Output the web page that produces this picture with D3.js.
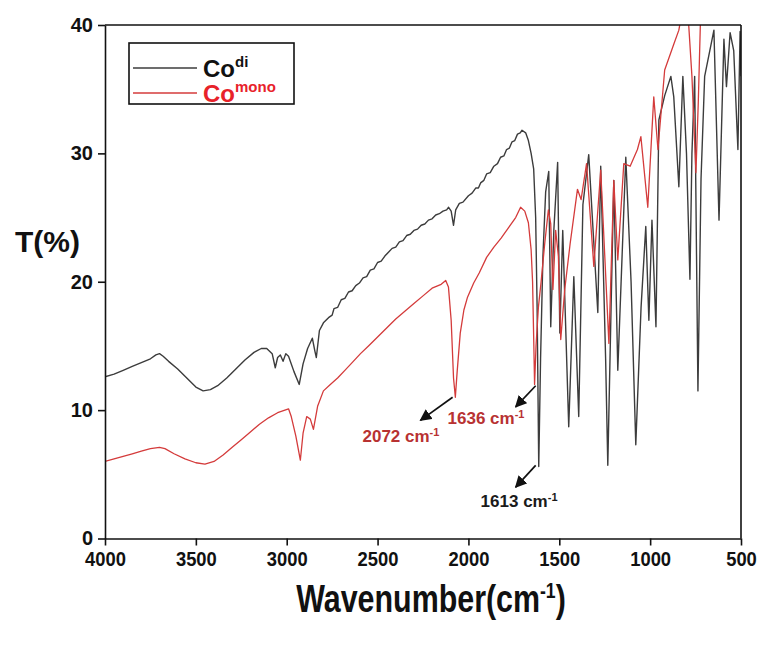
<!DOCTYPE html>
<html>
<head>
<meta charset="utf-8">
<script src="https://cdn.jsdelivr.net/npm/d3@7"></script>
<style>
  html, body { margin: 0; padding: 0; background: #fff; }
  svg { display: block; }
</style>
</head>
<body>
<svg id="chart" width="763" height="646"></svg>
<script>
// ---------------- DATA ----------------
const xTicks = [4000, 3500, 3000, 2500, 2000, 1500, 1000, 500];
const yTicks = [0, 10, 20, 30, 40];

const seriesNames = ["Co", "Co"];
const seriesSup = ["di", "mono"];

// Co(di) spectrum: [wavenumber, T%]
const coDi = [
  [4000,12.6],[3950,12.8],[3900,13.1],[3850,13.4],[3800,13.7],[3750,14.0],[3720,14.3],[3700,14.4],
  [3680,14.2],[3650,13.8],[3600,13.2],[3550,12.5],[3500,11.8],[3460,11.5],[3420,11.6],[3380,11.9],
  [3330,12.5],[3280,13.2],[3230,13.9],[3180,14.5],[3140,14.8],[3110,14.8],[3080,14.4],[3063,13.3],
  [3050,14.1],[3035,14.3],[3020,13.8],[3005,14.4],[2990,14.2],[2960,13.0],[2931,12.0],[2910,13.6],
  [2885,14.8],[2859,15.6],[2845,14.6],[2837,14.1],[2820,16.2],[2798,16.8],[2770,17.2],[2750,17.4],
  [2740,17.9],[2720,18.0],[2700,18.6],[2680,18.7],[2660,19.2],[2640,19.3],[2620,19.7],[2600,19.9],
  [2580,20.3],[2560,20.4],[2540,20.9],[2520,21.0],[2500,21.5],[2480,21.6],[2460,22.0],[2440,22.3],
  [2420,22.6],[2400,22.7],[2380,23.1],[2360,23.2],[2340,23.6],[2320,23.7],[2300,24.0],[2280,24.1],
  [2260,24.4],[2240,24.5],[2220,24.8],[2200,24.9],[2180,25.2],[2160,25.3],[2140,25.5],[2120,25.6],
  [2109,25.8],[2095,25.5],[2082,24.4],[2070,25.6],[2050,26.1],[2030,26.2],[2000,26.7],[1980,26.9],
  [1960,27.3],[1945,27.3],[1933,27.7],[1915,27.9],[1900,28.4],[1880,28.5],[1860,29.0],[1840,29.2],
  [1823,29.7],[1805,29.8],[1790,30.3],[1775,30.4],[1760,30.9],[1745,31.0],[1730,31.5],[1715,31.6],
  [1705,31.8],[1685,31.6],[1670,31.0],[1655,30.0],[1641,28.8],[1630,25.0],[1622,18.0],[1613,5.6],
  [1603,14.0],[1590,22.0],[1575,27.0],[1558,28.6],[1547,16.5],[1530,24.0],[1509,29.3],[1497,16.0],
  [1481,24.0],[1448,8.7],[1420,20.4],[1393,9.5],[1370,26.0],[1338,29.9],[1288,17.6],[1272,29.0],
  [1245,14.0],[1233,5.7],[1215,18.0],[1200,27.9],[1178,13.1],[1134,29.7],[1105,20.0],[1079,7.3],
  [1050,18.0],[1024,24.3],[1007,17.0],[990,24.8],[968,16.5],[952,32.6],[920,34.5],[886,36.0],
  [870,34.4],[842,27.4],[820,36.0],[800,30.0],[781,20.2],[770,30.0],[755,36.0],[737,11.5],
  [720,28.0],[700,36.0],[649,39.6],[621,24.8],[594,38.9],[580,35.2],[560,39.4],[540,38.0],
  [517,30.3],[505,39.5],[500,36.0]
];

// Co(mono) spectrum: [wavenumber, T%]
const coMono = [
  [4000,6.0],[3950,6.2],[3900,6.4],[3850,6.6],[3800,6.8],[3750,7.0],[3700,7.1],[3670,7.0],
  [3620,6.6],[3560,6.2],[3500,5.9],[3450,5.8],[3400,6.0],[3350,6.5],[3300,7.1],[3250,7.7],
  [3200,8.3],[3150,8.9],[3100,9.4],[3050,9.8],[3010,10.0],[2990,10.1],[2975,9.5],[2950,8.0],
  [2925,6.1],[2910,8.2],[2890,9.5],[2870,9.3],[2853,8.5],[2830,10.3],[2798,11.5],[2760,12.0],
  [2720,12.5],[2680,13.1],[2640,13.7],[2594,14.4],[2550,15.0],[2500,15.7],[2450,16.4],[2400,17.1],
  [2350,17.7],[2300,18.3],[2250,18.9],[2200,19.5],[2150,19.8],[2125,20.1],[2110,19.6],[2095,17.0],
  [2082,12.5],[2072,11.0],[2062,13.0],[2045,16.0],[2025,17.8],[2005,18.8],[1971,19.9],[1940,20.7],
  [1900,21.9],[1860,22.7],[1820,23.4],[1780,24.2],[1740,25.0],[1713,25.8],[1690,25.5],[1670,24.6],
  [1655,22.5],[1647,20.0],[1640,15.0],[1636,12.0],[1628,15.0],[1615,18.0],[1600,20.0],[1580,23.0],
  [1560,25.6],[1547,24.5],[1535,19.4],[1520,24.0],[1505,22.0],[1492,15.5],[1470,19.4],[1440,23.0],
  [1400,27.2],[1380,26.4],[1350,29.2],[1310,21.2],[1272,28.7],[1227,15.2],[1200,27.9],[1178,21.7],
  [1145,29.2],[1110,29.0],[1070,30.3],[1051,31.3],[1013,25.8],[980,34.4],[957,30.3],[920,36.5],
  [870,38.5],[842,39.6],[825,41.0],[810,42.0],[790,40.5],[770,36.0],[748,28.5],[735,34.0],
  [720,42.0],[700,44.0],[500,46.0]
];

// annotations: label, [arrow start w,T], [arrow end w,T], [label w,T]
const annLabels = ["2072 cm", "1636 cm", "1613 cm"];
const annArrowFrom = [[2087, 11.0], [1630, 11.9], [1630, 5.7]];
const annArrowTo = [[2264, 9.2], [1740, 10.25], [1740, 4.0]];
const annTextAt = [[2583, 7.5], [2115, 8.9], [1933, 2.45]];
const annColor = ["#b83232", "#b83232", "#1a1a1a"];

// ---------------- CHART ----------------
const svg = d3.select("#chart");
const X0 = 105, X1 = 741, Y0 = 25, Y1 = 538.5;
const FONT = "'Liberation Sans', Arial, sans-serif";

const x = d3.scaleLinear().domain([4000, 500]).range([X0, X1]);
const y = d3.scaleLinear().domain([0, 40]).range([Y1, Y0]);

svg.append("rect").attr("width", 763).attr("height", 646).attr("fill", "#fff");

const defs = svg.append("defs");
defs.append("clipPath").attr("id", "clip")
  .append("rect").attr("x", X0).attr("y", Y0).attr("width", X1 - X0).attr("height", Y1 - Y0);
defs.append("marker")
  .attr("id", "arrow").attr("viewBox", "0 0 10 10").attr("refX", 9).attr("refY", 5)
  .attr("markerWidth", 7).attr("markerHeight", 7).attr("orient", "auto")
  .append("path").attr("d", "M0,0 L10,5 L0,10 Z").attr("fill", "#111");

const line = d3.line().x(d => x(d[0])).y(d => y(d[1]));

const plot = svg.append("g").attr("clip-path", "url(#clip)");
plot.append("path").datum(coDi).attr("d", line)
  .attr("fill", "none").attr("stroke", "#3c3c3c").attr("stroke-width", 1.4).attr("stroke-linejoin", "round");
plot.append("path").datum(coMono).attr("d", line)
  .attr("fill", "none").attr("stroke", "#d43b3b").attr("stroke-width", 1.3).attr("stroke-linejoin", "round");

// axes
const gy = svg.append("g").attr("transform", `translate(${X0},0)`)
  .call(d3.axisLeft(y).tickValues(yTicks).tickFormat(d3.format("d")).tickSize(7).tickSizeOuter(0).tickPadding(5));
const gx = svg.append("g").attr("transform", `translate(0,${Y1})`)
  .call(d3.axisBottom(x).tickValues(xTicks).tickFormat(d3.format("d")).tickSize(7).tickSizeOuter(0).tickPadding(6));
[gx, gy].forEach(g => {
  g.select(".domain").attr("stroke", "#111").attr("stroke-width", 1.6);
  g.selectAll(".tick line").attr("stroke", "#111").attr("stroke-width", 1.6);
  g.selectAll(".tick text").attr("fill", "#111").attr("font-family", FONT)
    .attr("font-weight", "bold").attr("font-size", 20);
});
gx.selectAll(".tick text").attr("transform", "scale(0.92,1)");

// frame top & right
svg.append("line").attr("x1", X0).attr("x2", X1).attr("y1", Y0).attr("y2", Y0)
  .attr("stroke", "#111").attr("stroke-width", 1.6);
svg.append("line").attr("x1", X1).attr("x2", X1).attr("y1", Y0).attr("y2", Y1)
  .attr("stroke", "#111").attr("stroke-width", 1.6);

// axis titles
svg.append("text").attr("x", 15).attr("y", 252)
  .attr("font-family", FONT).attr("font-weight", "bold")
  .attr("font-size", 30).attr("fill", "#111").text("T(%)");

const xt = svg.append("text").attr("transform", "translate(431,612) scale(0.8,1)")
  .attr("text-anchor", "middle")
  .attr("font-family", FONT).attr("font-weight", "bold").attr("font-size", 38).attr("fill", "#111");
xt.append("tspan").text("Wavenumber(cm");
xt.append("tspan").attr("font-size", 22).attr("dy", -14).text("-1");
xt.append("tspan").attr("dy", 14).text(")");

// legend
const lg = svg.append("g");
lg.append("rect").attr("x", 129).attr("y", 43).attr("width", 165).attr("height", 61)
  .attr("fill", "#fff").attr("stroke", "#111").attr("stroke-width", 1.6);
const legColors = ["#3c3c3c", "#d43b3b"];
const legText = ["#111", "#e8222a"];
const legY = [68, 93];
seriesNames.forEach((n, i) => {
  lg.append("line").attr("x1", 133).attr("x2", 197).attr("y1", legY[i]).attr("y2", legY[i])
    .attr("stroke", legColors[i]).attr("stroke-width", 1.4);
  const t = lg.append("text").attr("x", 203).attr("y", legY[i] + 9)
    .attr("font-family", FONT).attr("font-weight", "bold")
    .attr("font-size", 24).attr("fill", legText[i]);
  t.append("tspan").text(n);
  t.append("tspan").attr("font-size", 15).attr("dy", -10).text(seriesSup[i]);
});

// annotations
annLabels.forEach((lab, i) => {
  svg.append("line")
    .attr("x1", x(annArrowFrom[i][0])).attr("y1", y(annArrowFrom[i][1]))
    .attr("x2", x(annArrowTo[i][0])).attr("y2", y(annArrowTo[i][1]))
    .attr("stroke", "#111").attr("stroke-width", 1.7).attr("marker-end", "url(#arrow)");
  const t = svg.append("text").attr("x", x(annTextAt[i][0])).attr("y", y(annTextAt[i][1]))
    .attr("font-family", FONT).attr("font-weight", "bold")
    .attr("font-size", 17).attr("fill", annColor[i]);
  t.append("tspan").text(lab);
  t.append("tspan").attr("font-size", 11).attr("dy", -6).text("-1");
});
</script>
</body>
</html>
